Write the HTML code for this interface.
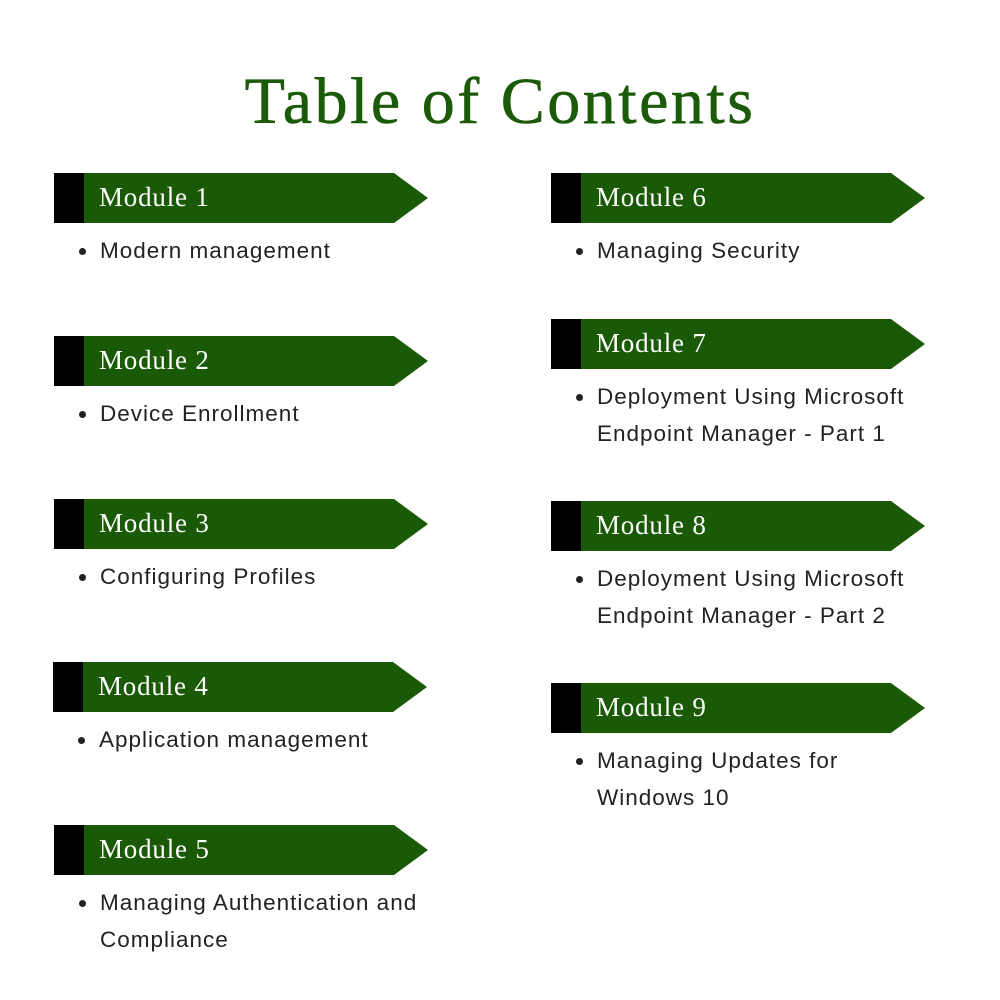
<!DOCTYPE html>
<html><head><style>
body{margin:0;width:1000px;height:1000px;background:#fff;position:relative;overflow:hidden}
.t{position:absolute;left:0;width:1000px;top:64px;text-align:center;font-family:"Liberation Serif",serif;font-size:66px;color:#1b5a08;letter-spacing:2.5px;-webkit-text-stroke:0.6px #1b5a08}
.b{position:absolute;width:374px;height:50px}
.b svg{position:absolute;left:0;top:0}
.b span{position:absolute;left:45px;top:9px;font-family:"Liberation Serif",serif;font-size:27px;color:#fff;letter-spacing:0.8px}
.l{position:absolute;font-family:"Liberation Sans",sans-serif;font-size:22.5px;color:#222;line-height:37px;letter-spacing:1px}
.l:before{content:"";position:absolute;left:-21px;top:16px;width:7px;height:7px;border-radius:50%;background:#222}
</style></head><body>
<div class="t">Table of Contents</div>

<div class="b" style="left:54px;top:173px"><svg width="374" height="50"><polygon points="0,0 340,0 374,25 340,50 0,50" fill="#1a5a06"/><rect width="30" height="50" fill="#000"/></svg><span>Module 1</span></div>
<div class="l" style="left:100px;top:232px">Modern management</div>

<div class="b" style="left:54px;top:336px"><svg width="374" height="50"><polygon points="0,0 340,0 374,25 340,50 0,50" fill="#1a5a06"/><rect width="30" height="50" fill="#000"/></svg><span>Module 2</span></div>
<div class="l" style="left:100px;top:395px">Device Enrollment</div>

<div class="b" style="left:54px;top:499px"><svg width="374" height="50"><polygon points="0,0 340,0 374,25 340,50 0,50" fill="#1a5a06"/><rect width="30" height="50" fill="#000"/></svg><span>Module 3</span></div>
<div class="l" style="left:100px;top:558px">Configuring Profiles</div>

<div class="b" style="left:53px;top:662px"><svg width="374" height="50"><polygon points="0,0 340,0 374,25 340,50 0,50" fill="#1a5a06"/><rect width="30" height="50" fill="#000"/></svg><span>Module 4</span></div>
<div class="l" style="left:99px;top:721px">Application management</div>

<div class="b" style="left:54px;top:825px"><svg width="374" height="50"><polygon points="0,0 340,0 374,25 340,50 0,50" fill="#1a5a06"/><rect width="30" height="50" fill="#000"/></svg><span>Module 5</span></div>
<div class="l" style="left:100px;top:884px">Managing Authentication and<br>Compliance</div>

<div class="b" style="left:551px;top:173px"><svg width="374" height="50"><polygon points="0,0 340,0 374,25 340,50 0,50" fill="#1a5a06"/><rect width="30" height="50" fill="#000"/></svg><span>Module 6</span></div>
<div class="l" style="left:597px;top:232px">Managing Security</div>

<div class="b" style="left:551px;top:319px"><svg width="374" height="50"><polygon points="0,0 340,0 374,25 340,50 0,50" fill="#1a5a06"/><rect width="30" height="50" fill="#000"/></svg><span>Module 7</span></div>
<div class="l" style="left:597px;top:378px">Deployment Using Microsoft<br>Endpoint Manager - Part 1</div>

<div class="b" style="left:551px;top:501px"><svg width="374" height="50"><polygon points="0,0 340,0 374,25 340,50 0,50" fill="#1a5a06"/><rect width="30" height="50" fill="#000"/></svg><span>Module 8</span></div>
<div class="l" style="left:597px;top:560px">Deployment Using Microsoft<br>Endpoint Manager - Part 2</div>

<div class="b" style="left:551px;top:683px"><svg width="374" height="50"><polygon points="0,0 340,0 374,25 340,50 0,50" fill="#1a5a06"/><rect width="30" height="50" fill="#000"/></svg><span>Module 9</span></div>
<div class="l" style="left:597px;top:742px">Managing Updates for<br>Windows 10</div>
</body></html>
